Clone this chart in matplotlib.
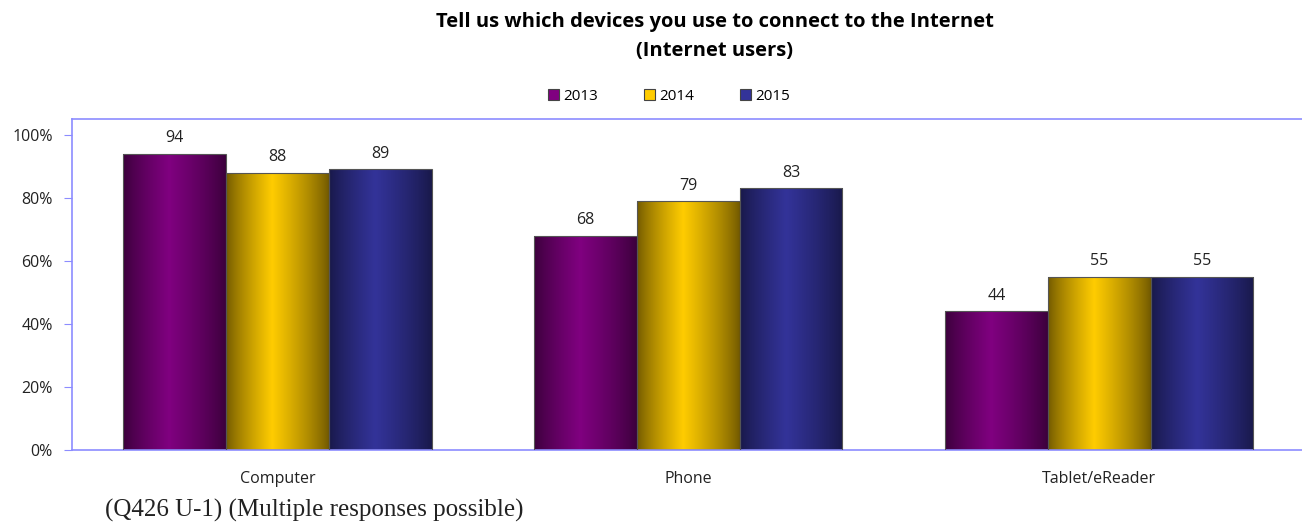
import numpy as np
import matplotlib
matplotlib.use("Agg")
import matplotlib.pyplot as plt
from matplotlib.colors import LinearSegmentedColormap
from matplotlib.patches import Rectangle

categories = ["Computer", "Phone", "Tablet/eReader"]
years = ["2013", "2014", "2015"]
values_2013 = [94, 68, 44]
values_2014 = [88, 79, 55]
values_2015 = [89, 83, 55]
series = [values_2013, values_2014, values_2015]
yticks = [0, 20, 40, 60, 80, 100]
ytick_labels = ["0%", "20%", "40%", "60%", "80%", "100%"]

base_colors = ["#800080", "#FFCC00", "#333399"]
dark_colors = ["#3a003a", "#705800", "#181848"]

fig = plt.figure(figsize=(13.02, 5.25), dpi=100)
ax = fig.add_axes([72/1302, 1-450/525, 1-72/1302 + 0.002, (450-119)/525])

spine_c = "#8c8cff"
ax.set_xlim(-0.5, 2.5)
ax.set_ylim(0, 105)
ax.spines["right"].set_visible(False)
for s in ["left", "bottom", "top"]:
    ax.spines[s].set_color(spine_c)
    ax.spines[s].set_linewidth(1.2)

width = 0.25
x = np.arange(len(categories))
grad = np.linspace(0, 1, 256)
prof = np.interp(grad, [0, 0.45, 1.0], [0.0, 1.0, 0.0])
prof = prof ** 0.8
img = prof[np.newaxis, :]

handles = []
for i, (vals, bc, dc) in enumerate(zip(series, base_colors, dark_colors)):
    cmap = LinearSegmentedColormap.from_list(f"g{i}", [dc, bc])
    offs = (i - 1) * width
    bars = ax.bar(x + offs, vals, width, color="none", edgecolor="#555555", linewidth=0.8, zorder=3)
    for b, v in zip(bars, vals):
        x0 = b.get_x()
        im = ax.imshow(img, cmap=cmap, aspect="auto", extent=[x0, x0 + width, 0, v],
                       vmin=0, vmax=1, zorder=2, interpolation="bilinear")
        im.set_clip_path(b)
        ax.text(x0 + width/2, v + 2.3, str(v), ha="center", va="bottom", fontsize=11.5,
                color="#222222", family="Open Sans")
    handles.append(Rectangle((0, 0), 1, 1, facecolor=bc, edgecolor="#444444", linewidth=0.8))

ax.set_xticks(x)
ax.set_xticklabels(categories, fontsize=11.5, family="Open Sans", color="#222222")
ax.tick_params(axis="x", length=0, pad=15)
ax.set_yticks(yticks)
ax.set_yticklabels(ytick_labels, fontsize=11.5, family="Open Sans", color="#222222")
ax.tick_params(axis="y", length=6, color=spine_c, direction="out", pad=8)

title_x = 715 / 1302
fig.text(title_x, 1-22/525, "Tell us which devices you use to connect to the Internet",
         ha="center", va="center", fontsize=14.5, fontweight="bold", family="Open Sans")
fig.text(title_x, 1-51/525, "(Internet users)",
         ha="center", va="center", fontsize=14.5, fontweight="bold", family="Open Sans")

leg = fig.legend(handles, years, loc="center", bbox_to_anchor=(0.514, 1-96/525), ncol=3,
                 frameon=False, handlelength=0.7, handleheight=0.7,
                 columnspacing=3.0, handletextpad=0.3, prop={"family": "Open Sans", "size": 11})

fig.text(105/1302, 1-510/525, "(Q426 U-1) (Multiple responses possible)", ha="left", va="center",
         fontsize=18, family="Liberation Serif", color="#222222")

fig.savefig("out.png", dpi=100)
